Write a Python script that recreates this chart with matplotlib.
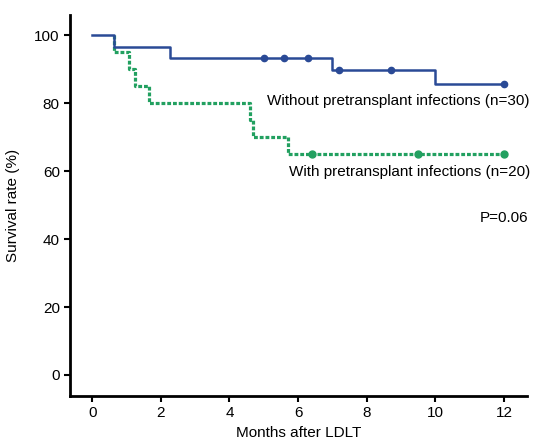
import matplotlib.pyplot as plt
import numpy as np

plt.rcParams['font.family'] = ['Liberation Sans', 'DejaVu Sans']

# Kaplan-Meier steps (months, survival %)
blue_t = [0, 0.65, 2.27, 7.0, 10.0, 12.0]
blue_s = [100, 96.7, 93.3, 89.9, 85.8, 85.8]
blue_cens_t = [5.0, 5.6, 6.3, 7.2, 8.7, 12.0]
blue_cens_s = [93.3, 93.3, 93.3, 89.9, 89.9, 85.8]

green_t = [0.65, 0.65, 1.07, 1.25, 1.65, 4.6, 4.7, 5.7, 12.0]
green_s = [100, 95, 90, 85, 80, 75, 70, 65, 65]
green_cens_t = [6.4, 9.5, 12.0]
green_cens_s = [65, 65, 65]

blue = '#2a4a96'
green = '#22a060'

fig = plt.figure(figsize=(5.4, 4.43), dpi=100)
ax = fig.add_axes([0.13, 0.106, 0.846, 0.86])

ax.step(green_t, green_s, where='post', color=green, lw=2.3,
        linestyle=(0, (1.2, 0.6)), zorder=2)
ax.plot(green_cens_t, green_cens_s, 'o', color=green, ms=5, zorder=4)
ax.step(blue_t, blue_s, where='post', color=blue, lw=1.8, zorder=3)
ax.plot(blue_cens_t, blue_cens_s, 'o', color=blue, ms=4.5, zorder=4)

fs = 11
ax.text(12.75, 80.8, 'Without pretransplant infections (n=30)', ha='right',
        va='center', fontsize=fs)
ax.text(12.75, 59.7, 'With pretransplant infections (n=20)', ha='right',
        va='center', fontsize=fs)
ax.text(12.7, 46.2, 'P=0.06', ha='right', va='center', fontsize=fs)

ax.set_xlim(-0.64, 12.67)
ax.set_ylim(-6.2, 106)
ax.set_xticks(np.arange(0, 13, 2))
ax.set_yticks(np.arange(0, 101, 20))
ax.tick_params(labelsize=fs, length=4, width=1.5)
ax.spines['top'].set_visible(False)
ax.spines['right'].set_visible(False)
ax.spines['left'].set_linewidth(2)
ax.spines['bottom'].set_linewidth(2)
ax.set_xlabel('Months after LDLT', fontsize=fs, labelpad=4)
ax.set_ylabel('Survival rate (%)', fontsize=fs, labelpad=10)

fig.savefig('out.png', dpi=100)
